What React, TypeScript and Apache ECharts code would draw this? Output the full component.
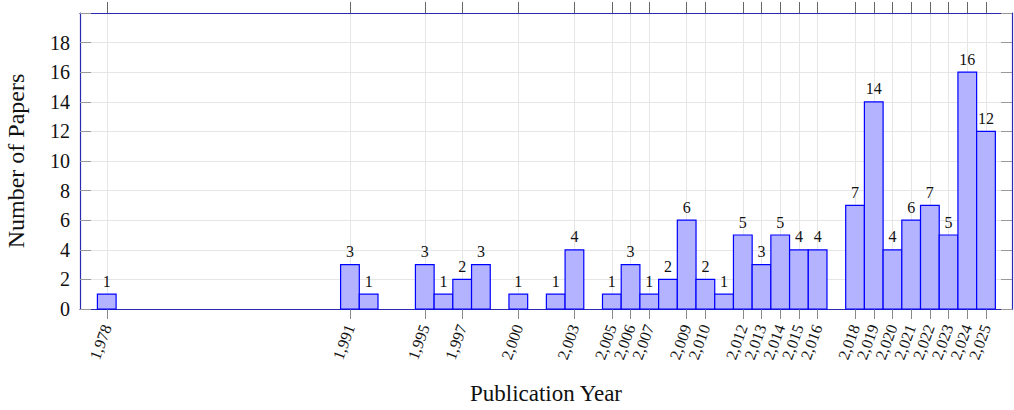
import React, { useEffect, useRef } from "react";
import * as echarts from "echarts";

const years = [1978, 1991, 1992, 1995, 1996, 1997, 1998, 2000, 2002, 2003, 2005, 2006, 2007, 2008, 2009, 2010, 2011, 2012, 2013, 2014, 2015, 2016, 2018, 2019, 2020, 2021, 2022, 2023, 2024, 2025];
const counts = [1, 3, 1, 3, 1, 2, 3, 1, 1, 4, 1, 3, 1, 2, 6, 2, 1, 5, 3, 5, 4, 4, 7, 14, 4, 6, 7, 5, 16, 12];
const tickYears = [1978, 1991, 1995, 1997, 2000, 2003, 2005, 2006, 2007, 2009, 2010, 2012, 2013, 2014, 2015, 2016, 2018, 2019, 2020, 2021, 2022, 2023, 2024, 2025];

const FONT = "'Liberation Serif', 'DejaVu Serif', serif";
const AXIS_COLOR = "#2a2ab0";

export default function App() {
  const ref = useRef<HTMLDivElement>(null);
  useEffect(() => {
    if (!ref.current) return;
    const chart = echarts.init(ref.current, null, { renderer: "svg" });
    const data = years.map((y, i) => [y, counts[i]]);
    chart.setOption({
      animation: false,
      grid: { left: 80, right: 2, top: 13, bottom: 101, containLabel: false, outerBoundsMode: "none" },
      xAxis: [
        {
          type: "value",
          min: 1976.57,
          max: 2026.39,
          name: "Publication Year",
          nameLocation: "middle",
          nameGap: 73,
          nameTextStyle: { fontFamily: FONT, fontSize: 23, color: "#111" },
          axisLine: { show: true, onZero: false, lineStyle: { color: AXIS_COLOR, width: 1.2 } },
          axisTick: { show: true, inside: false, length: 10, customValues: tickYears, lineStyle: { color: "#888" } },
          axisLabel: {
            show: true,
            customValues: tickYears,
            rotate: 70,
            margin: 16,
            fontFamily: FONT,
            fontSize: 16,
            color: "#111",
            formatter: (v: number) => v.toLocaleString("en-US"),
          },
          splitLine: { show: true, lineStyle: { color: "#e6e6e6", width: 1 } },
        },
        {
          type: "value",
          position: "top",
          min: 1976.57,
          max: 2026.39,
          axisLine: { show: true, onZero: false, lineStyle: { color: AXIS_COLOR, width: 1.2 } },
          axisTick: { show: true, inside: false, length: 11, customValues: tickYears, lineStyle: { color: "#666" } },
          axisLabel: { show: false },
          splitLine: { show: false },
        },
      ],
      yAxis: [
        {
          type: "value",
          min: 0,
          max: 20,
          interval: 2,
          name: "Number of Papers",
          nameLocation: "middle",
          nameGap: 52,
          nameTextStyle: { fontFamily: FONT, fontSize: 24, color: "#111" },
          axisLine: { show: true, onZero: false, lineStyle: { color: AXIS_COLOR, width: 1.2 } },
          axisTick: { show: true, inside: true, length: 11, lineStyle: { color: "#999" } },
          axisLabel: {
            fontFamily: FONT,
            fontSize: 20,
            color: "#111",
            margin: 10,
            formatter: (v: number) => (v >= 20 ? "" : String(v)),
          },
          splitLine: { show: true, lineStyle: { color: "#e6e6e6", width: 1 } },
        },
        {
          type: "value",
          position: "right",
          min: 0,
          max: 20,
          interval: 2,
          axisLine: { show: true, onZero: false, lineStyle: { color: AXIS_COLOR, width: 1.2 } },
          axisTick: { show: true, inside: true, length: 11, lineStyle: { color: "#999" } },
          axisLabel: { show: false },
          splitLine: { show: false },
        },
      ],
      series: [
        {
          type: "custom",
          xAxisIndex: 0,
          yAxisIndex: 0,
          data,
          clip: false,
          renderItem: (params: any, api: any) => {
            const x = api.value(0);
            const v = api.value(1);
            const p0 = api.coord([x - 0.5, v]);
            const p1 = api.coord([x + 0.5, 0]);
            const mid = api.coord([x, v]);
            return {
              type: "group",
              children: [
                {
                  type: "rect",
                  shape: { x: p0[0], y: p0[1], width: p1[0] - p0[0], height: p1[1] - p0[1] },
                  style: { fill: "#b3b3ff", stroke: "#0000ff", lineWidth: 1.2 },
                },
                {
                  type: "text",
                  x: mid[0],
                  y: mid[1] - 5,
                  style: {
                    text: String(v),
                    fontFamily: FONT,
                    fontSize: 16,
                    fill: "#111",
                    align: "center",
                    verticalAlign: "bottom",
                  },
                },
              ],
            };
          },
        },
      ],
    });
    return () => chart.dispose();
  }, []);
  return <div ref={ref} style={{ position: "absolute", left: 0, top: 0, width: 1014, height: 410 }} />;
}
